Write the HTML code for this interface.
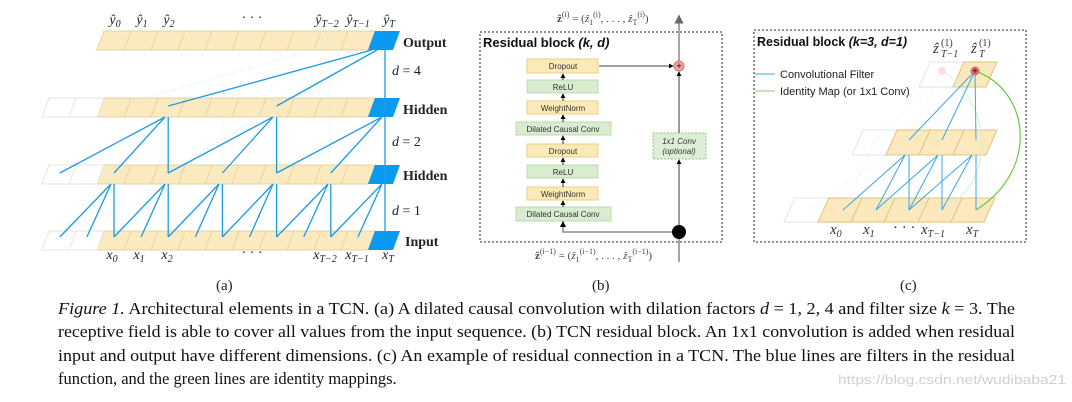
<!DOCTYPE html>
<html><head><meta charset="utf-8"><style>
html,body{margin:0;padding:0;background:#fff;width:1072px;height:402px;overflow:hidden}
</style></head><body>
<svg width="1072" height="402" viewBox="0 0 1072 402" xmlns="http://www.w3.org/2000/svg">
<defs>
<marker id="ah" markerWidth="6" markerHeight="6" refX="5" refY="3" orient="auto"><path d="M0,0 L6,3 L0,6 z" fill="#000"/></marker>
<marker id="ahg" markerWidth="6" markerHeight="6" refX="5" refY="3" orient="auto"><path d="M0,0 L6,3 L0,6 z" fill="#666"/></marker>
</defs>
<g stroke="#e6d49c" stroke-width="1" fill="#fbeabf">
<path d="M97 50 L104 31 L375 31 L368 50 Z"/>
<path d="M124 50 L131 31 M151 50 L158 31 M178 50 L185 31 M205 50 L212 31 M232 50 L239 31 M259 50 L266 31 M287 50 L294 31 M314 50 L321 31 M341 50 L348 31" fill="none"/>
<path d="M97 117 L104 98 L375 98 L368 117 Z"/>
<path d="M124 117 L131 98 M151 117 L158 98 M178 117 L185 98 M205 117 L212 98 M232 117 L239 98 M259 117 L266 98 M287 117 L294 98 M314 117 L321 98 M341 117 L348 98" fill="none"/>
<path d="M97 184 L104 165 L375 165 L368 184 Z"/>
<path d="M124 184 L131 165 M151 184 L158 165 M178 184 L185 165 M205 184 L212 165 M232 184 L239 165 M259 184 L266 165 M287 184 L294 165 M314 184 L321 165 M341 184 L348 165" fill="none"/>
<path d="M97 250 L104 231 L375 231 L368 250 Z"/>
<path d="M124 250 L131 231 M151 250 L158 231 M178 250 L185 231 M205 250 L212 231 M232 250 L239 231 M259 250 L266 231 M287 250 L294 231 M314 250 L321 231 M341 250 L348 231" fill="none"/>
</g>
<g stroke="#e4e4e4" fill="#fff">
<path d="M42 117 L49 98 L104 98 L97 117 Z M69 117 L76 98"/>
<path d="M42 184 L49 165 L104 165 L97 184 Z M69 184 L76 165"/>
<path d="M42 250 L49 231 L104 231 L97 250 Z M69 250 L76 231"/>
</g>
<g fill="#0a9af2">
<path d="M368 50 L375 31 L400 31 L393 50 Z"/>
<path d="M368 117 L375 98 L400 98 L393 117 Z"/>
<path d="M368 184 L375 165 L400 165 L393 184 Z"/>
<path d="M368 250 L375 231 L400 231 L393 250 Z"/>
</g>
<g stroke="#cfe9fb" stroke-width="1" stroke-dasharray="1.5 2.5" fill="none">
<path d="M330 45 L118 106 M330 45 V106 M276 106 L168 173 M222 106 V173 M330 106 V173"/>
</g>
<g stroke="#1a9be8" stroke-width="1.3" fill="none">
<path d="M385 50 V231"/>
<path d="M377 50 L276.6 106 M372 50 L168.2 106"/>
<path d="M168.2 117 V173 M165 117 L114 173 M165 117 L59.8 173"/>
<path d="M276.6 117 V173 M273 117 L222.4 173 M273 117 L168.2 173"/>
<path d="M382 117 L330.8 173 M382 117 L276.6 173"/>
<path d="M114 184 V237 M111 184 L86.9 237 M111 184 L59.8 237"/>
<path d="M168.2 184 V237 M165 184 L141.1 237 M165 184 L114 237"/>
<path d="M222.4 184 V237 M219 184 L195.3 237 M219 184 L168.2 237"/>
<path d="M276.6 184 V237 M273 184 L249.5 237 M273 184 L222.4 237"/>
<path d="M330.8 184 V237 M328 184 L303.7 237 M328 184 L276.6 237"/>
<path d="M382 184 L357.9 237 M382 184 L330.8 237"/>
</g>
<g font-family="Liberation Serif, serif" font-style="italic" font-size="14" fill="#222" text-anchor="middle">
<text x="115" y="24">ŷ<tspan font-size="10" dy="3">0</tspan></text>
<text x="142" y="24">ŷ<tspan font-size="10" dy="3">1</tspan></text>
<text x="169" y="24">ŷ<tspan font-size="10" dy="3">2</tspan></text>
<text x="252" y="22" font-style="normal">· · ·</text>
<text x="327" y="24">ŷ<tspan font-size="10" dy="3">T−2</tspan></text>
<text x="358" y="24">ŷ<tspan font-size="10" dy="3">T−1</tspan></text>
<text x="389" y="24">ŷ<tspan font-size="10" dy="3">T</tspan></text>
<text x="112" y="259">x<tspan font-size="10" dy="3">0</tspan></text>
<text x="139" y="259">x<tspan font-size="10" dy="3">1</tspan></text>
<text x="167" y="259">x<tspan font-size="10" dy="3">2</tspan></text>
<text x="252" y="257" font-style="normal">· · ·</text>
<text x="325" y="259">x<tspan font-size="10" dy="3">T−2</tspan></text>
<text x="357" y="259">x<tspan font-size="10" dy="3">T−1</tspan></text>
<text x="388" y="259">x<tspan font-size="10" dy="3">T</tspan></text>
</g>
<g font-family="Liberation Serif, serif" font-size="14" fill="#222">
<text x="392" y="75"><tspan font-style="italic">d</tspan> = 4</text>
<text x="392" y="146"><tspan font-style="italic">d</tspan> = 2</text>
<text x="392" y="215"><tspan font-style="italic">d</tspan> = 1</text>
<g font-weight="bold" font-size="14">
<text x="403" y="47">Output</text>
<text x="403" y="114">Hidden</text>
<text x="403" y="180">Hidden</text>
<text x="405" y="246">Input</text>
</g>
<text x="216" y="290" font-size="15">(a)</text>
<text x="592" y="290" font-size="15">(b)</text>
<text x="900" y="290" font-size="15">(c)</text>
</g>
<rect x="480" y="32" width="242" height="210" fill="none" stroke="#222" stroke-width="1" stroke-dasharray="2 2"/>
<text x="483" y="47" font-family="Liberation Sans, sans-serif" font-size="13" font-weight="bold" fill="#111">Residual block <tspan font-style="italic">(k, d)</tspan></text>
<g font-family="Liberation Sans, sans-serif" font-size="8" fill="#333" text-anchor="middle" stroke-width="1">
<rect x="527" y="59" width="71" height="14" fill="#fbe9b7" stroke="#e8cf85"/><text x="563" y="69">Dropout</text>
<rect x="527" y="80" width="71" height="13" fill="#d8eccf" stroke="#bcd9b0"/><text x="563" y="90">ReLU</text>
<rect x="527" y="101" width="71" height="13" fill="#fbe9b7" stroke="#e8cf85"/><text x="563" y="111">WeightNorm</text>
<rect x="516" y="122" width="95" height="13" fill="#d8eccf" stroke="#bcd9b0"/><text x="563" y="132">Dilated Causal Conv</text>
<rect x="527" y="144" width="71" height="13" fill="#fbe9b7" stroke="#e8cf85"/><text x="563" y="154">Dropout</text>
<rect x="527" y="165" width="71" height="13" fill="#d8eccf" stroke="#bcd9b0"/><text x="563" y="175">ReLU</text>
<rect x="527" y="187" width="71" height="13" fill="#fbe9b7" stroke="#e8cf85"/><text x="563" y="197">WeightNorm</text>
<rect x="516" y="207" width="95" height="14" fill="#d8eccf" stroke="#bcd9b0"/><text x="563" y="217">Dilated Causal Conv</text>
<rect x="653" y="133" width="53" height="26" fill="#dcefd6" stroke="#8fc28a" stroke-dasharray="2 1.5"/>
<text x="679" y="144" font-style="italic">1x1 Conv</text><text x="679" y="154" font-style="italic">(optional)</text>
</g>
<g stroke="#000" stroke-width="0.8" fill="none" marker-end="url(#ah)">
<path d="M563 80 V74"/><path d="M563 101 V94"/><path d="M563 122 V115"/><path d="M563 144 V136"/><path d="M563 165 V158"/><path d="M563 187 V179"/><path d="M563 207 V201"/>
<path d="M599 66 L673 66"/>
<path d="M679 133 V72"/><path d="M679 225 V160"/>
</g>
<path d="M563 221 V232 H679" stroke="#777" stroke-width="1.3" fill="none"/>
<path d="M563 225 V222" stroke="#000" marker-end="url(#ah)"/>
<path d="M679 262 V232" stroke="#888" stroke-width="1.5"/>
<path d="M679 61 V16" stroke="#888" stroke-width="1.5" marker-end="url(#ahg)"/>
<circle cx="679" cy="232" r="7" fill="#000"/>
<circle cx="679" cy="66" r="5" fill="#f2a0a0" stroke="#e07070"/>
<text x="679" y="69" font-size="9" text-anchor="middle" font-family="Liberation Sans, sans-serif">+</text>
<g font-family="Liberation Serif, serif" font-size="11" fill="#444">
<text x="557" y="22"><tspan font-weight="bold">ẑ</tspan><tspan font-size="8" dy="-5">(i)</tspan><tspan dy="5"> = (</tspan><tspan font-style="italic">ẑ</tspan><tspan font-size="8" dy="3">1</tspan><tspan font-size="8" dy="-8">(i)</tspan><tspan dy="5">, . . . , </tspan><tspan font-style="italic">ẑ</tspan><tspan font-size="8" dy="3">T</tspan><tspan font-size="8" dy="-8">(i)</tspan><tspan dy="5">)</tspan></text>
<text x="535" y="259"><tspan font-weight="bold">ẑ</tspan><tspan font-size="8" dy="-5">(i−1)</tspan><tspan dy="5"> = (</tspan><tspan font-style="italic">ẑ</tspan><tspan font-size="8" dy="3">1</tspan><tspan font-size="8" dy="-8">(i−1)</tspan><tspan dy="5">, . . . , </tspan><tspan font-style="italic">ẑ</tspan><tspan font-size="8" dy="3">T</tspan><tspan font-size="8" dy="-8">(i−1)</tspan><tspan dy="5">)</tspan></text>
</g>
<rect x="754" y="30" width="272" height="212" fill="none" stroke="#222" stroke-width="1" stroke-dasharray="2 2"/>
<text x="757" y="46" font-family="Liberation Sans, sans-serif" font-size="12.5" font-weight="bold" fill="#111">Residual block <tspan font-style="italic">(k=3, d=1)</tspan></text>
<path d="M755 74 H775" stroke="#3aa6e6" stroke-width="1"/>
<path d="M755 91 H775" stroke="#7fd06a" stroke-width="1"/>
<g font-family="Liberation Sans, sans-serif" font-size="11" fill="#222">
<text x="780" y="78">Convolutional Filter</text>
<text x="780" y="95">Identity Map (or 1x1 Conv)</text>
</g>
<g stroke="#e4e4e4" fill="#fff">
<path d="M919 87 L930 62 L964 62 L953 87 Z"/>
<path d="M852 155 L863 130 L897 130 L886 155 Z"/>
<path d="M784 222 L795 198 L829 198 L818 222 Z"/>
</g>
<g stroke="#e2c47e" fill="#fbe9bd">
<path d="M953 87 L964 62 L997 62 L986 87 Z"/>
<path d="M886 155 L897 130 L997 130 L986 155 Z M919 155 L930 130 M953 155 L964 130"/>
<path d="M818 222 L829 198 L995 198 L984 222 Z M851 222 L862 198 M884 222 L895 198 M918 222 L929 198 M951 222 L962 198"/>
</g>
<g stroke="#d5ecfa" stroke-dasharray="1 2" fill="none">
<path d="M942 71 L876 140 M942 71 L909 140 M909 140 L810 210 M876 140 L843 210"/>
</g>
<path d="M942 71 C990 100 1000 180 942 210" stroke="#d6f0cc" fill="none"/>
<g stroke="#3aa6e6" stroke-width="1" fill="none">
<path d="M975 71 L909 140 M975 71 L942 140 M975 71 L976 140"/>
<path d="M905 155 L843 210 M905 155 L876 210 M909 155 V210"/>
<path d="M938 155 L876 210 M938 155 L909 210 M942 155 V210"/>
<path d="M972 155 L909 210 M972 155 L942 210 M976 155 V210"/>
</g>
<path d="M976 210 C1040 170 1030 90 975 71" stroke="#6cc84e" stroke-width="1.2" fill="none"/>
<circle cx="942" cy="71" r="4" fill="#fbe0e0"/>
<circle cx="975" cy="71" r="4.5" fill="#e06a6a"/>
<text x="975" y="74" font-size="9" text-anchor="middle" font-family="Liberation Sans, sans-serif">+</text>
<g font-family="Liberation Serif, serif" font-size="15" fill="#333">
<text x="933" y="53" font-style="italic">ẑ</text>
<text x="941" y="57" font-size="10" font-style="italic">T−1</text>
<text x="941" y="46" font-size="10">(1)</text>
<text x="971" y="53" font-style="italic">ẑ</text>
<text x="979" y="57" font-size="10" font-style="italic">T</text>
<text x="979" y="46" font-size="10">(1)</text>
</g>
<g font-family="Liberation Serif, serif" font-style="italic" font-size="15" fill="#333">
<text x="830" y="234">x<tspan font-size="10" dy="3">0</tspan></text>
<text x="863" y="234">x<tspan font-size="10" dy="3">1</tspan></text>
<text x="893" y="232" font-style="normal">· · ·</text>
<text x="921" y="234">x<tspan font-size="10" dy="3">T−1</tspan></text>
<text x="966" y="234">x<tspan font-size="10" dy="3">T</tspan></text>
</g>
<g font-family="Liberation Serif, serif" font-size="16.5" fill="#111">
<text x="58" y="314" textLength="957" lengthAdjust="spacingAndGlyphs"><tspan font-style="italic">Figure 1.</tspan> Architectural elements in a TCN. (a) A dilated causal convolution with dilation factors <tspan font-style="italic">d</tspan> = 1, 2, 4 and filter size <tspan font-style="italic">k</tspan> = 3. The</text>
<text x="58" y="337" textLength="957" lengthAdjust="spacingAndGlyphs">receptive field is able to cover all values from the input sequence. (b) TCN residual block. An 1x1 convolution is added when residual</text>
<text x="58" y="361" textLength="957" lengthAdjust="spacingAndGlyphs">input and output have different dimensions. (c) An example of residual connection in a TCN. The blue lines are filters in the residual</text>
<text x="58" y="384">function, and the green lines are identity mappings.</text>
</g>
<text x="838" y="384" font-family="Liberation Sans, sans-serif" font-size="13" fill="#d0d0d0" textLength="228" lengthAdjust="spacingAndGlyphs">https://blog.csdn.net/wudibaba21</text>
</svg>
</body></html>
